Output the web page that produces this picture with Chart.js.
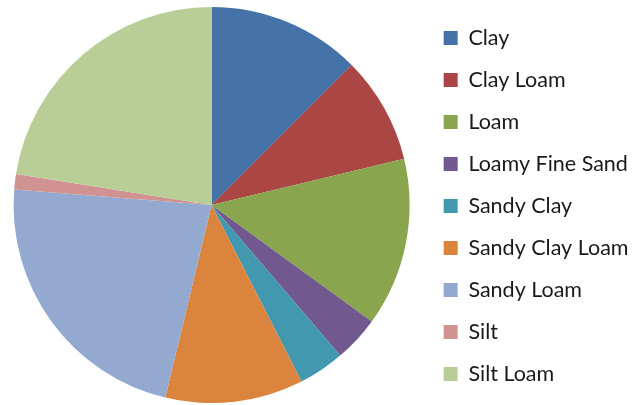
<!DOCTYPE html>
<html>
<head>
<meta charset="utf-8">
<script src="https://cdn.jsdelivr.net/npm/chart.js@4"></script>
<style>
  html, body { margin: 0; padding: 0; background: #ffffff; }
  #wrap { width: 640px; height: 405px; }
</style>
</head>
<body>
<div id="wrap"><canvas id="pie" width="640" height="405"></canvas></div>
<script>
// Soil texture classes and number of samples in each
const categories = ['Clay', 'Clay Loam', 'Loam', 'Loamy Fine Sand', 'Sandy Clay',
                    'Sandy Clay Loam', 'Sandy Loam', 'Silt', 'Silt Loam'];
const sampleCounts = [10, 7, 11, 3, 3, 9, 18, 1, 18];
const sliceColors = ['#4572A7', '#AA4643', '#89A54E', '#71588F', '#4198AF',
                     '#DB843D', '#93A9CF', '#D19392', '#B9CD96'];

new Chart(document.getElementById('pie'), {
  type: 'pie',
  data: {
    labels: categories,
    datasets: [{
      data: sampleCounts,
      backgroundColor: sliceColors,
      borderWidth: 0
    }]
  },
  options: {
    responsive: false,
    animation: false,
    radius: 198,
    layout: { padding: { left: 0, top: 5, bottom: -2, right: 1.5 } },
    plugins: {
      tooltip: { enabled: false },
      legend: {
        position: 'right',
        align: 'center',
        labels: {
          boxWidth: 14,
          boxHeight: 14,
          padding: 20.5,
          color: '#1a1a1a',
          font: { family: 'Lato', size: 21.5 }
        }
      }
    }
  }
});
</script>
</body>
</html>
